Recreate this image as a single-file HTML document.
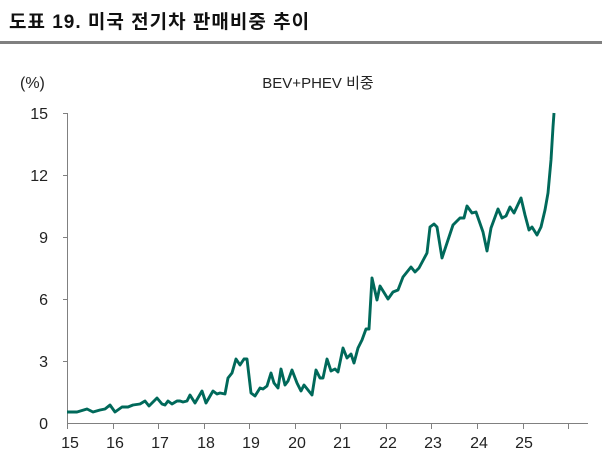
<!DOCTYPE html>
<html><head><meta charset="utf-8"><style>
body{margin:0;background:#fff;}
svg{display:block;font-family:"Liberation Sans","Noto Sans CJK KR",sans-serif;}
</style></head><body>
<svg width="602" height="462" viewBox="0 0 602 462">
<text x="9" y="28" font-size="19" font-weight="bold" fill="#111" letter-spacing="1">도표 19. 미국 전기차 판매비중 추이</text>
<rect x="0" y="41" width="602" height="3" fill="#808080"/>
<text x="20" y="88" font-size="16" fill="#222">(%)</text>
<text x="318" y="88" font-size="15" fill="#222" text-anchor="middle">BEV+PHEV 비중</text>
<g stroke="#808080" stroke-width="1">
<line x1="67.5" y1="113" x2="67.5" y2="424"/>
<line x1="63" y1="113.5" x2="67" y2="113.5"/>
<line x1="63" y1="175.5" x2="67" y2="175.5"/>
<line x1="63" y1="237.5" x2="67" y2="237.5"/>
<line x1="63" y1="299.5" x2="67" y2="299.5"/>
<line x1="63" y1="361.5" x2="67" y2="361.5"/>
<line x1="67" y1="423.5" x2="588" y2="423.5"/>
<line x1="67.5" y1="424" x2="67.5" y2="429"/><line x1="113.5" y1="424" x2="113.5" y2="429"/><line x1="158.5" y1="424" x2="158.5" y2="429"/><line x1="204.5" y1="424" x2="204.5" y2="429"/><line x1="249.5" y1="424" x2="249.5" y2="429"/><line x1="295.5" y1="424" x2="295.5" y2="429"/><line x1="340.5" y1="424" x2="340.5" y2="429"/><line x1="386.5" y1="424" x2="386.5" y2="429"/><line x1="431.5" y1="424" x2="431.5" y2="429"/><line x1="477.5" y1="424" x2="477.5" y2="429"/><line x1="523.5" y1="424" x2="523.5" y2="429"/><line x1="568.5" y1="424" x2="568.5" y2="429"/>
</g>
<g font-size="16" fill="#222" text-anchor="end">
<text x="48" y="119">15</text><text x="48" y="181">12</text><text x="48" y="243">9</text><text x="48" y="305">6</text><text x="48" y="367">3</text><text x="48" y="429">0</text>
</g>
<g font-size="16" fill="#222" text-anchor="middle">
<text x="70" y="448">15</text><text x="115" y="448">16</text><text x="160" y="448">17</text><text x="206" y="448">18</text><text x="251" y="448">19</text><text x="297" y="448">20</text><text x="342" y="448">21</text><text x="388" y="448">22</text><text x="433" y="448">23</text><text x="479" y="448">24</text><text x="524" y="448">25</text>
</g>
<polyline fill="none" stroke="#00695a" stroke-width="2.9" stroke-linejoin="round" points="67,412 77,412 87,409 93,412 100,410 105,409 110,405 115,412 122,407 128,407 133,405 140,404 145,401 149,406 157,398 162,404 165,405 168,401 172,404 177,401 180,401 183,402 187,401 190,395 195,403 202,391 206,403 213,391 217,394 220,393 225,394 228,378 232,373 236,359 240,365 244,359 247,359 251,393 255,396 260,388 263,389 267,386 271,373 274,383 278,388 281,369 285,385 288,381 292,370 297,383 301,391 304,385 308,390 312,395 316,370 320,378 323,378 327,359 331,371 335,369 338,372 343,348 347,358 351,354 354,363 358,348 362,340 366,329 369,329 372,278 377,300 380,286 388,299 393,292 398,290 403,277 411,267 415,272 419,268 427,253 430,227 434,224 437,227 442,258 453,225 460,218 464,218 467,206 472,213 476,212 483,232 487,251 491,228 498,209 502,218 506,216 510,207 514,213 521,198 525,215 529,230 532,227 537,235 541,227 545,210 548,193 551,160 553,127 554,113"/>
</svg>
</body></html>
